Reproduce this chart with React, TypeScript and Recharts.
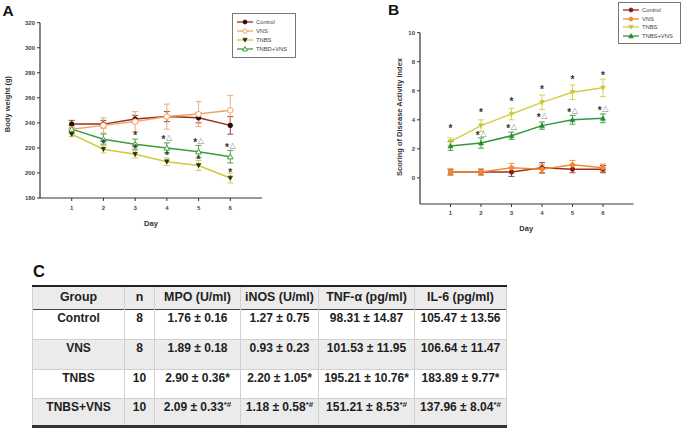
import { LineChart, Line, XAxis, YAxis, ErrorBar, LabelList, Legend, Label } from "recharts";

const FONT = '"Liberation Sans", Arial, Helvetica, sans-serif';

const DAYS = [1, 2, 3, 4, 5, 6];

// A: body weight (g)
const weightControl = [239, 239, 243, 245, 244, 238];
const weightControlErr = [3, 3, 3, 4, 4, 7];
const weightVns = [235, 238, 241, 245, 247, 250];
const weightVnsErr = [4, 6, 8, 10, 10, 12];
const weightTnbs = [231, 219, 215, 209, 206, 196];
const weightTnbsErr = [2, 3, 3, 3, 4, 4];
const weightTnbsVns = [235, 227, 223, 220, 217, 213];
const weightTnbsVnsErr = [3, 4, 4, 4, 5, 5];
const weightTnbsMarks = ["", "*", "*", "*", "*", "*"];
const weightTnbsVnsMarks = ["", "", "*", "*△", "*△", "*△"];
const weightTicks = [180, 200, 220, 240, 260, 280, 300, 320];

// B: disease activity index
const daiControl = [0.4, 0.4, 0.4, 0.7, 0.6, 0.6];
const daiControlErr = [0.2, 0.2, 0.3, 0.35, 0.25, 0.25];
const daiVns = [0.4, 0.4, 0.7, 0.6, 0.9, 0.7];
const daiVnsErr = [0.2, 0.2, 0.3, 0.3, 0.3, 0.25];
const daiTnbs = [2.5, 3.6, 4.4, 5.2, 5.9, 6.2];
const daiTnbsErr = [0.25, 0.4, 0.4, 0.5, 0.5, 0.6];
const daiTnbsVns = [2.2, 2.4, 2.9, 3.6, 4.0, 4.1];
const daiTnbsVnsErr = [0.3, 0.35, 0.25, 0.25, 0.3, 0.3];
const daiTnbsMarks = ["*", "*", "*", "*", "*", "*"];
const daiTnbsVnsMarks = ["", "*△", "*△", "*△", "*△", "*△"];
const daiTicks = [0, 2, 4, 6, 8, 10];

// C: table
const tableHeader = ["Group", "n", "MPO (U/ml)", "iNOS (U/ml)", "TNF-α (pg/ml)", "IL-6 (pg/ml)"];
const tableGroups = ["Control", "VNS", "TNBS", "TNBS+VNS"];
const tableN = ["8", "8", "10", "10"];
const tableMpo = ["1.76 ± 0.16", "1.89 ± 0.18", "2.90 ± 0.36*", "2.09 ± 0.33*#"];
const tableInos = ["1.27 ± 0.75", "0.93 ± 0.23", "2.20 ± 1.05*", "1.18 ± 0.58*#"];
const tableTnf = ["98.31 ± 14.87", "101.53 ± 11.95", "195.21 ± 10.76*", "151.21 ± 8.53*#"];
const tableIl6 = ["105.47 ± 13.56", "106.64 ± 11.47", "183.89 ± 9.77*", "137.96 ± 8.04*#"];

const weightData = DAYS.map((day, i) => ({
  day,
  control: weightControl[i],
  controlErr: weightControlErr[i],
  vns: weightVns[i],
  vnsErr: weightVnsErr[i],
  tnbs: weightTnbs[i],
  tnbsErr: weightTnbsErr[i],
  tnbsMark: weightTnbsMarks[i],
  tnbsVns: weightTnbsVns[i],
  tnbsVnsErr: weightTnbsVnsErr[i],
  tnbsVnsMark: weightTnbsVnsMarks[i],
}));

const daiData = DAYS.map((day, i) => ({
  day,
  control: daiControl[i],
  controlErr: daiControlErr[i],
  vns: daiVns[i],
  vnsErr: daiVnsErr[i],
  tnbs: daiTnbs[i],
  tnbsErr: daiTnbsErr[i],
  tnbsMark: daiTnbsMarks[i],
  tnbsVns: daiTnbsVns[i],
  tnbsVnsErr: daiTnbsVnsErr[i],
  tnbsVnsMark: daiTnbsVnsMarks[i],
}));

type Marker = "dot" | "ring" | "down" | "up" | "upOpen";

const markerShape = (kind: Marker, fill: string, stroke: string, s: number, cx: number, cy: number, key?: string | number) => {
  if (kind === "dot") return <circle key={key} cx={cx} cy={cy} r={s} fill={fill} stroke={stroke} strokeWidth={0.8} />;
  if (kind === "ring") return <circle key={key} cx={cx} cy={cy} r={s} fill="#fff" stroke={stroke} strokeWidth={1} />;
  if (kind === "down")
    return <polygon key={key} points={`${cx - s},${cy - s * 0.8} ${cx + s},${cy - s * 0.8} ${cx},${cy + s}`} fill={fill} stroke={stroke} strokeWidth={0.6} />;
  const f = kind === "upOpen" ? "#fff" : fill;
  return <polygon key={key} points={`${cx - s},${cy + s * 0.8} ${cx + s},${cy + s * 0.8} ${cx},${cy - s}`} fill={f} stroke={stroke} strokeWidth={kind === "upOpen" ? 1 : 0.6} />;
};

const dotRenderer = (kind: Marker, fill: string, stroke: string, s: number) => (p: any) =>
  markerShape(kind, fill, stroke, s, p.cx, p.cy, `d-${p.index}`);

const markRenderer = (dy: number, size: number) => (p: any) => {
  const { x, y, value, index } = p;
  if (!value) return null;
  const hasTri = String(value).includes("△");
  return (
    <text key={`m-${index}`} x={x} y={y + dy} textAnchor="middle" fontFamily={FONT} fontSize={size} fill="#333" stroke="none">
      <tspan fill="#333" fontWeight="bold" dy={size * 0.58}>*</tspan>
      {hasTri && (
        <tspan fill="#8a8a8a" fontFamily="DejaVu Sans" fontSize={size * 0.8} dy={-size * 0.3} dx={0.5}>
          △
        </tspan>
      )}
    </text>
  );
};

type LegendItem = { name: string; color: string; kind: Marker; fill: string; stroke: string; s: number };

const legendBox = (items: LegendItem[], rowH: number, fontSize: number) => () => (
  <div
    style={{
      border: "1px solid #777",
      background: "#fff",
      padding: "3px 4px 3px 4px",
      fontFamily: FONT,
      fontSize,
      color: "#444",
      boxSizing: "border-box",
    }}
  >
    {items.map((it) => (
      <div key={it.name} style={{ display: "flex", alignItems: "center", height: rowH, whiteSpace: "nowrap" }}>
        <svg width={16} height={8} style={{ marginRight: 3, flex: "none" }}>
          <line x1={0} y1={4} x2={16} y2={4} stroke={it.color} strokeWidth={1.3} />
          {markerShape(it.kind, it.fill, it.stroke, it.s, 8, 4)}
        </svg>
        <span>{it.name}</span>
      </div>
    ))}
  </div>
);

const weightLegend: LegendItem[] = [
  { name: "Control", color: "#9c2b22", kind: "dot", fill: "#2a0808", stroke: "#2a0808", s: 2 },
  { name: "VNS", color: "#f2a35e", kind: "ring", fill: "#fff", stroke: "#f2a35e", s: 2.2 },
  { name: "TNBS", color: "#cccc3a", kind: "down", fill: "#2a2a10", stroke: "#2a2a10", s: 2.2 },
  { name: "TNBD+VNS", color: "#3d9b3d", kind: "upOpen", fill: "#fff", stroke: "#3d9b3d", s: 2.4 },
];

const daiLegend: LegendItem[] = [
  { name: "Control", color: "#a0282a", kind: "dot", fill: "#8a1a1a", stroke: "#8a1a1a", s: 2 },
  { name: "VNS", color: "#f08c2e", kind: "dot", fill: "#f08c2e", stroke: "#f08c2e", s: 2 },
  { name: "TNBS", color: "#d2d040", kind: "down", fill: "#c8c63a", stroke: "#c8c63a", s: 2.2 },
  { name: "TNBS+VNS", color: "#2f9a3a", kind: "up", fill: "#2a8a30", stroke: "#2a8a30", s: 2.4 },
];

const tickStyle = { fontSize: 6, fontWeight: "bold", fill: "#444", fontFamily: FONT };

const xLabel = (text: string, cxShift: number, baseline: number) => (p: any) => {
  const vb = p.viewBox;
  return (
    <text x={vb.x + vb.width / 2 + cxShift} y={baseline} textAnchor="middle" fontFamily={FONT} fontSize={7.5} fontWeight="bold" fill="#333">
      {text}
    </text>
  );
};

const yLabel = (text: string, baseX: number, cy: number, size: number) => () => (
  <text
    transform={`translate(${baseX} ${cy}) rotate(-90)`}
    textAnchor="middle"
    fontFamily={FONT}
    fontSize={size}
    fontWeight="bold"
    fill="#333"
  >
    {text}
  </text>
);

function WeightChart() {
  return (
    <LineChart width={300} height={230} data={weightData} margin={{ top: 22.7, right: 38, bottom: 0, left: 0 }}>
      <XAxis
        dataKey="day"
        type="number"
        domain={[0, 7]}
        ticks={DAYS}
        height={32}
        tickSize={3}
        tickMargin={5}
        tick={tickStyle}
        axisLine={{ stroke: "#333", strokeWidth: 1.2 }}
        tickLine={{ stroke: "#333" }}
      >
        <Label content={xLabel("Day", 0, 226)} />
      </XAxis>
      <YAxis
        type="number"
        domain={[180, 320]}
        ticks={weightTicks}
        width={40}
        tickSize={3}
        tick={tickStyle}
        axisLine={{ stroke: "#333", strokeWidth: 1.2 }}
        tickLine={{ stroke: "#333" }}
      >
        <Label content={yLabel("Body weight (g)", 9.5, 104, 7.5)} />
      </YAxis>
      <Legend
        layout="vertical"
        align="center"
        verticalAlign="middle"
        wrapperStyle={{ left: 232, top: 13, width: 64 }}
        content={legendBox(weightLegend, 9.2, 5.8)}
      />
      <Line dataKey="control" stroke="#9c2b22" strokeWidth={1.5} isAnimationActive={false} dot={dotRenderer("dot", "#2a0808", "#2a0808", 2.3)}>
        <ErrorBar dataKey="controlErr" width={3} stroke="#9c2b22" strokeWidth={0.9} direction="y" />
      </Line>
      <Line dataKey="vns" stroke="#f2a35e" strokeWidth={1.5} isAnimationActive={false} dot={dotRenderer("ring", "#fff", "#f2a35e", 2.8)}>
        <ErrorBar dataKey="vnsErr" width={3} stroke="#f2a35e" strokeWidth={0.9} direction="y" />
      </Line>
      <Line dataKey="tnbs" stroke="#cccc3a" strokeWidth={1.5} isAnimationActive={false} dot={dotRenderer("down", "#2a2a10", "#2a2a10", 2.3)}>
        <ErrorBar dataKey="tnbsErr" width={3} stroke="#cccc3a" strokeWidth={0.9} direction="y" />
        <LabelList dataKey="tnbsMark" content={markRenderer(-8, 10)} />
      </Line>
      <Line dataKey="tnbsVns" stroke="#3d9b3d" strokeWidth={1.5} isAnimationActive={false} dot={dotRenderer("upOpen", "#fff", "#3d9b3d", 2.8)}>
        <ErrorBar dataKey="tnbsVnsErr" width={3} stroke="#3d9b3d" strokeWidth={0.9} direction="y" />
        <LabelList dataKey="tnbsVnsMark" content={markRenderer(-11, 10)} />
      </Line>
    </LineChart>
  );
}

function DaiChart() {
  return (
    <LineChart width={305} height={235} data={daiData} margin={{ top: 32.7, right: 51.5, bottom: 0, left: 0 }}>
      <XAxis
        dataKey="day"
        type="number"
        domain={[0, 7]}
        ticks={DAYS}
        height={31}
        tickSize={3}
        tickMargin={4}
        tick={tickStyle}
        axisLine={{ stroke: "#333", strokeWidth: 1.2 }}
        tickLine={{ stroke: "#333" }}
      >
        <Label content={xLabel("Day", -0.5, 231)} />
      </XAxis>
      <YAxis
        type="number"
        domain={[-1.8, 10]}
        ticks={daiTicks}
        width={40}
        tickSize={3}
        tick={tickStyle}
        axisLine={{ stroke: "#333", strokeWidth: 1.2 }}
        tickLine={{ stroke: "#333" }}
      >
        <Label content={yLabel("Scoring of Disease Activity Index", 22, 117, 7.5)} />
      </YAxis>
      <Legend
        layout="vertical"
        align="center"
        verticalAlign="middle"
        wrapperStyle={{ left: 238, top: 2, width: 63 }}
        content={legendBox(daiLegend, 8.5, 5.8)}
      />
      <Line dataKey="control" stroke="#a0282a" strokeWidth={1.5} isAnimationActive={false} dot={dotRenderer("dot", "#8a1a1a", "#8a1a1a", 2.2)}>
        <ErrorBar dataKey="controlErr" width={3} stroke="#a0282a" strokeWidth={0.9} direction="y" />
      </Line>
      <Line dataKey="vns" stroke="#f08c2e" strokeWidth={1.5} isAnimationActive={false} dot={dotRenderer("dot", "#f08c2e", "#f08c2e", 2.2)}>
        <ErrorBar dataKey="vnsErr" width={3} stroke="#f08c2e" strokeWidth={0.9} direction="y" />
      </Line>
      <Line dataKey="tnbs" stroke="#d2d040" strokeWidth={1.5} isAnimationActive={false} dot={dotRenderer("down", "#c8c63a", "#c8c63a", 2.3)}>
        <ErrorBar dataKey="tnbsErr" width={3} stroke="#d2d040" strokeWidth={0.9} direction="y" />
        <LabelList dataKey="tnbsMark" content={markRenderer(-15, 10)} />
      </Line>
      <Line dataKey="tnbsVns" stroke="#2f9a3a" strokeWidth={1.5} isAnimationActive={false} dot={dotRenderer("up", "#2a8a30", "#2a8a30", 2.5)}>
        <ErrorBar dataKey="tnbsVnsErr" width={3} stroke="#2f9a3a" strokeWidth={0.9} direction="y" />
        <LabelList dataKey="tnbsVnsMark" content={markRenderer(-10, 10)} />
      </Line>
    </LineChart>
  );
}

const withSup = (v: string) => {
  const m = v.match(/^(.*?)(\*#?)$/);
  if (!m) return v;
  if (m[2] === "*") return v;
  return (
    <>
      {m[1]}
      <sup style={{ fontSize: 8, lineHeight: 0, verticalAlign: "4px" }}>{m[2]}</sup>
    </>
  );
};

const colWidths = [92, 30, 86, 78, 96, 92];
const rowHeights = [30, 30, 29, 28.5];

function DataTable() {
  const cell = (i: number, extra: any) => ({
    borderLeft: "1px solid #d0d0d0",
    borderRight: i === colWidths.length - 1 ? "1px solid #d0d0d0" : undefined,
    textAlign: "center" as const,
    padding: 0,
    overflow: "visible",
    whiteSpace: "nowrap" as const,
    ...extra,
  });
  const rows = tableGroups.map((g, r) => [g, tableN[r], tableMpo[r], tableInos[r], tableTnf[r], tableIl6[r]]);
  return (
    <table
      style={{
        position: "absolute",
        left: 32,
        top: 285,
        width: 474,
        borderCollapse: "collapse",
        tableLayout: "fixed",
        fontFamily: FONT,
        fontWeight: "bold",
        color: "#1e1e1e",
        borderTop: "2px solid #222",
        borderBottom: "3px solid #333",
      }}
    >
      <colgroup>
        {colWidths.map((w, i) => (
          <col key={i} style={{ width: w }} />
        ))}
      </colgroup>
      <tbody>
        <tr style={{ height: 23, background: "#ebebeb", borderBottom: "1.5px solid #444" }}>
          {tableHeader.map((h, i) => (
            <td key={h} style={cell(i, { fontSize: 12.4, verticalAlign: "middle", lineHeight: "15px" })}>
              {h}
            </td>
          ))}
        </tr>
        {rows.map((row, r) => (
          <tr
            key={row[0]}
            style={{
              height: rowHeights[r],
              background: r % 2 === 1 ? "#ebebeb" : "#fff",
              borderTop: r === 0 ? undefined : "1px solid #d0d0d0",
            }}
          >
            {row.map((v, i) => (
              <td key={i} style={cell(i, { fontSize: 12, verticalAlign: "top", lineHeight: "15px", paddingTop: 1.5 })}>
                {withSup(v)}
              </td>
            ))}
          </tr>
        ))}
      </tbody>
    </table>
  );
}

const panelLetter = (text: string, left: number, top: number, size: number) => (
  <div
    style={{
      position: "absolute",
      left,
      top,
      fontFamily: FONT,
      fontWeight: "bold",
      fontSize: size,
      lineHeight: `${size}px`,
      color: "#111",
    }}
  >
    {text}
  </div>
);

export default function App() {
  return (
    <div style={{ position: "absolute", left: 0, top: 0, width: 685, height: 429, background: "#fff", overflow: "hidden" }}>
      <div style={{ position: "absolute", left: 0, top: 0 }}>
        <WeightChart />
      </div>
      <div style={{ position: "absolute", left: 380, top: 0 }}>
        <DaiChart />
      </div>
      {panelLetter("A", 2.5, 3.3, 15.5)}
      {panelLetter("B", 388, 2.3, 15.5)}
      {panelLetter("C", 33, 263, 16.5)}
      <DataTable />
    </div>
  );
}
